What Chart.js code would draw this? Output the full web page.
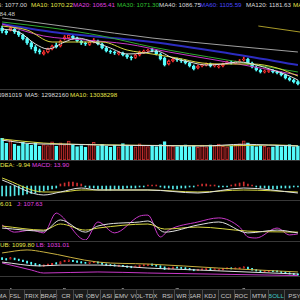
<!DOCTYPE html>
<html>
<head>
<meta charset="utf-8">
<script src="https://cdn.jsdelivr.net/npm/chart.js@4.4.0/dist/chart.umd.min.js"></script>
<style>
body{margin:0;background:#000;overflow:hidden}
#wrap{position:relative;width:300px;height:300px;background:#000;overflow:hidden;font-family:"Liberation Sans",Arial,sans-serif;font-size:6.2px}
canvas{position:absolute;left:0}
.t{position:absolute;white-space:nowrap;line-height:7px}
.sep{position:absolute;left:0;width:300px;height:1px;background:#383838}
#tabs{position:absolute;left:0;top:289px;width:300px;height:11px;background:#1a1a1a;border-top:1px solid #3c3c3c}
.tab{position:absolute;top:2px;line-height:7px;color:#c8c8c8;transform:translateX(-50%);white-space:nowrap}
.div{position:absolute;top:0;width:1px;height:11px;background:#4a4a4a}
</style>
</head>
<body>
<div id="wrap">
  <span class="t" style="right:273px;top:1px;color:#dcdcdc">MA5: 1077.00</span>
  <span class="t" style="left:31px;top:1px;color:#e6e64a">MA10: 1070.22</span>
  <span class="t" style="left:73px;top:1px;color:#e040e0">MA20: 1065.41</span>
  <span class="t" style="left:117px;top:1px;color:#30c030">MA30: 1071.30</span>
  <span class="t" style="left:159px;top:1px;color:#dcdcdc">MA40: 1086.75</span>
  <span class="t" style="left:200px;top:1px;color:#4848ff">MA60: 1105.59</span>
  <span class="t" style="left:246px;top:1px;color:#dcdcdc">MA120: 1181.63</span>
  <span class="t" style="left:293px;top:1px;color:#e6e64a">MA250:</span>
  <span class="t" style="right:285px;top:10px;color:#cccccc">1184.48</span>

  <span class="t" style="right:278px;top:91px;color:#dcdcdc">15981019</span>
  <span class="t" style="left:25px;top:91px;color:#dcdcdc">MA5: 12982160</span>
  <span class="t" style="left:70px;top:91px;color:#e6e64a">MA10: 13038298</span>

  <span class="t" style="left:0px;top:161px;color:#e6e64a">DEA: -9.94</span>
  <span class="t" style="left:32px;top:161px;color:#e040e0">MACD: 13.90</span>

  <span class="t" style="right:288px;top:200px;color:#e6e64a">D: 96.01</span>
  <span class="t" style="left:17px;top:200px;color:#e040e0">J: 107.63</span>

  <span class="t" style="left:0px;top:241px;color:#e6e64a">UB: 1099.80</span>
  <span class="t" style="left:36px;top:241px;color:#e040e0">LB: 1031.01</span>

  <canvas id="price" width="300" height="81" style="top:8px"></canvas>
  <canvas id="vol" width="300" height="63" style="top:97px"></canvas>
  <canvas id="macd" width="300" height="33" style="top:167px"></canvas>
  <canvas id="kdj" width="300" height="33" style="top:207px"></canvas>
  <canvas id="boll" width="300" height="41" style="top:248px"></canvas>

  <div class="sep" style="top:89px"></div>
  <div class="sep" style="top:160px"></div>
  <div class="sep" style="top:200px"></div>
  <div class="sep" style="top:241px"></div>
  <div class="sep" style="top:276px"></div>

  <div id="tabs"></div>
</div>
<script>
// candles, oldest -> newest
const opens  = [1152,1146,1148,1150,1144,1138,1131,1122,1114,1107,1100,1104,1110,1118,1116,1130,1132,1136,1132,1126,1122,1119,1124,1126,1120,1112,1106,1104,1100,1102,1098,1094,1093,1098,1103,1106,1109,1106,1100,1092,1080,1086,1090,1088,1086,1082,1076,1072,1076,1078,1080,1076,1074,1076,1082,1084,1082,1084,1088,1090,1082,1074,1068,1064,1065,1067,1064,1062,1058,1052,1048,1045];
const closes = [1146,1142,1152,1144,1138,1130,1122,1114,1106,1104,1104,1110,1116,1114,1126,1134,1138,1132,1126,1122,1120,1124,1128,1120,1112,1106,1104,1102,1103,1098,1094,1092,1098,1104,1106,1108,1107,1100,1090,1078,1086,1090,1088,1086,1082,1076,1070,1076,1078,1080,1076,1078,1076,1080,1084,1082,1084,1086,1090,1082,1074,1068,1064,1066,1067,1064,1062,1058,1052,1048,1044,1040];
const highs  = [1156,1149,1156,1153,1146,1140,1133,1125,1117,1110,1107,1112,1118,1122,1128,1137,1140,1138,1134,1128,1124,1126,1131,1128,1122,1114,1108,1106,1105,1104,1100,1096,1100,1106,1108,1110,1112,1108,1102,1094,1088,1092,1092,1090,1088,1084,1078,1078,1080,1082,1082,1080,1078,1082,1086,1086,1086,1089,1094,1092,1084,1076,1070,1068,1069,1069,1066,1064,1060,1054,1050,1047];
const lows   = [1142,1139,1146,1141,1135,1128,1119,1110,1102,1100,1098,1102,1108,1112,1114,1128,1130,1129,1124,1119,1117,1117,1122,1118,1110,1104,1101,1099,1098,1096,1091,1088,1091,1096,1101,1104,1104,1098,1088,1076,1078,1084,1085,1083,1080,1074,1068,1070,1074,1076,1074,1074,1072,1074,1080,1080,1080,1082,1086,1080,1072,1066,1062,1062,1063,1062,1060,1056,1050,1046,1042,1038];
// volume, millions of shares
const volumes = [18.5,14.2,16.8,13.5,12.1,15.3,13.8,12.6,14.9,11.8,13.2,12.4,15.6,11.9,14.8,13.1,16.2,12.7,11.4,12.3,11.1,13.6,15.2,12.2,13.4,11.8,10.9,12.6,11.3,14.1,12.8,12.1,11.2,13.9,12.4,11.6,12.2,11.5,13.3,15.8,12.6,11.9,11.4,12.2,13.1,11.6,12.4,10.8,12.7,11.3,12.9,12.3,13.6,11.7,11.2,12.1,12.8,13.9,16.4,14.8,12.2,11.6,12.4,11.8,10.7,11.3,12.6,11.4,12.3,13.2,11.5,12.1];
const macdHist = [-20,-20,-20,-19,-18,-18,-16,-15,-14,-12,-10,-8,-6,-4, 4,6,8,8,6,4, -2,-4,-4,-6,-6,-8,-8,-6,-6,-6,-4,-4,-4,-2,-2, 2,2,2, -2,-4,-4,-6,-6,-4,-4,-2,-2, 2,4,4,2,2, -2,-2,-2,2,4, 6,8,4,2, -2,-4,-4,-6,-6,-6,-4,-4,-4,-2,-2];

// indicator lines as [bar index, value]
const ma5   = [[0,1150],[4,1144],[8,1120],[11,1110],[15,1124],[18,1132],[22,1124],[26,1112],[30,1100],[34,1102],[37,1106],[41,1092],[45,1084],[49,1078],[53,1080],[57,1084],[61,1078],[65,1068],[69,1056],[71,1048]];
const ma10  = [[0,1156],[6,1148],[12,1124],[18,1124],[24,1124],[30,1108],[36,1100],[42,1092],[48,1082],[54,1080],[60,1080],[66,1072],[71,1056]];
const ma20  = [[0,1160],[10,1136],[20,1128],[30,1120],[40,1104],[54,1084],[71,1058]];
const ma30  = [[0,1164],[12,1152],[24,1136],[36,1114],[54,1088],[71,1064]];
const ma60  = [[0,1160],[12,1144],[36,1124],[54,1102],[71,1078]];
const ma120 = [[0,1172],[18,1152],[36,1132],[54,1117],[71,1104]];
const ma250 = [[61.5,1156],[71.5,1144]];
const volMa5  = [[0,17],[8,13.8],[16,13.5],[24,12.8],[36,12.4],[48,12.0],[58,13.5],[64,12.8],[71,12.0]];
const volMa10 = [[0,18],[10,14.5],[25,13.0],[40,12.4],[55,12.2],[65,12.9],[71,12.2]];
const dif = [[0,12],[10,-18],[14,-12],[19,-4],[23,-8],[35,-8],[47,-14],[58,-4],[71,-14]];
const dea = [[0,16],[10,-12],[14,-12],[19,-8],[23,-8],[35,-8],[47,-12],[58,-8],[71,-12]];
const kLine = [[0,37],[10,25],[14,69],[20,21],[23,45],[33,61],[35,65],[39,21],[47,49],[52,61],[59,18],[66,29],[71,18]];
const dLine = [[0,45],[10,29],[14,53],[20,29],[23,37],[35,53],[39,33],[47,41],[59,25],[71,21]];
const jLine = [[0,49],[3,21],[7,29],[10,18],[13,96],[14,88],[20,-10],[23,61],[27,18],[33,84],[35,88],[38,2],[40,29],[47,61],[52,77],[57,41],[59,2],[61,-2],[66,37],[69,10],[71,14]];
const bollUb  = [[0,1187],[6,1207],[10,1193],[23,1126],[35,1113],[52,1086],[71,1060]];
const bollMid = [[0,1126],[9,1100],[14,1106],[23,1106],[35,1086],[47,1073],[71,1046]];
const bollLb  = [[0,1120],[7,1073],[10,1053],[23,1060],[35,1053],[71,1036]];

const monthTicks  = [2, 15, 29, 42, 58];
const monthLabels = ['4', '5', '6', '7', '8'];
const tabNames = ['MA','FSL','TRIX','BRAR','CR','VR','OBV','ASI','EMV','VOL-TDX','RSI','WR','SAR','KDJ','CCI','ROC','MTM','BOLL','PSY'];

const N = closes.length;
const RED = '#ff3232', TEAL = '#54fcfc';
const up = closes.map((c, i) => c >= opens[i]);

function candles(wick, body) {
  return [
    {data: lows.map((l, i) => ({x: i, y: [l, highs[i]]})), backgroundColor: up.map(u => u ? RED : TEAL),
     barThickness: wick, grouped: false, order: 3},
    {data: opens.map((o, i) => ({x: i, y: [o, closes[i]]})), backgroundColor: up.map(u => u ? '#000' : TEAL),
     borderColor: up.map(u => u ? RED : TEAL), borderWidth: 1, borderSkipped: false, minBarLength: 1,
     barThickness: body, grouped: false, order: 2}
  ];
}
function line(pts, color, w) {
  return {type: 'line', data: pts.map(p => ({x: p[0], y: p[1]})), borderColor: color, borderWidth: w || 1,
    pointRadius: 0, cubicInterpolationMode: 'monotone', spanGaps: true, order: 1};
}
function panel(id, datasets, min, max, xExtra) {
  return new Chart(document.getElementById(id), {
    type: 'bar',
    data: {datasets},
    options: {
      responsive: false, animation: false, devicePixelRatio: 1,
      layout: {padding: 0},
      plugins: {legend: {display: false}, tooltip: {enabled: false}},
      scales: {
        x: Object.assign({type: 'linear', min: -0.5, max: N - 0.5, offset: false, display: false}, xExtra || {}),
        y: {min, max, display: false}
      }
    }
  });
}

panel('price', [
  line(ma5, '#e0e0e0'), line(ma10, '#d8d840'), line(ma20, '#c838c8'), line(ma30, '#30a830'),
  line(ma60, '#2c2cc0', 2), line(ma120, '#a0a0a0'), line(ma250, '#a89a28'),
  ...candles(1, 3)
], 1030, 1192);

panel('vol', [
  line(volMa5, '#e0e0e0'), line(volMa10, '#d8d840'),
  {data: volumes.map((v, i) => ({x: i, y: v})), backgroundColor: up.map(u => u ? '#3a0808' : TEAL),
   borderColor: up.map(u => u ? '#c83030' : TEAL), borderWidth: 1, borderSkipped: false, barThickness: 3, order: 2}
], 0, 54);

panel('macd', [
  line(dif, '#e0e0e0'), line(dea, '#d8d840'),
  {data: macdHist.map((v, i) => ({x: i, y: v})), backgroundColor: macdHist.map(v => v > 0 ? '#d03030' : '#54e8e8'),
   barThickness: 1, order: 2}
], -28, 38);

panel('kdj', [
  line(kLine, '#e0e0e0'), line(dLine, '#d8d840'), line(jLine, '#c838c8')
], -10, 120);

panel('boll', [
  line(bollUb, '#c8b040'), line(bollMid, '#e0e0e0'), line(bollLb, '#c838c8'),
  ...candles(1, 1)
], 1033, 1220, {
  display: true, position: 'bottom',
  grid: {display: false}, border: {display: false},
  afterFit: s => { s.height = 13; },
  afterBuildTicks: s => { s.ticks = monthTicks.map(v => ({value: v})); },
  ticks: {color: '#c8c8c8', font: {size: 6.5, family: 'Liberation Sans'}, padding: 3, maxRotation: 0, autoSkip: false,
    callback: (v, i) => monthLabels[i]}
});

// bottom indicator tabs
const tabCenters = [2,15,31.5,49,66,79,92.5,107,121.5,144,167.5,181.5,194.5,210,226,241,259,276,294.5];
const tabs = document.getElementById('tabs');
tabNames.forEach((name, i) => {
  const s = document.createElement('span');
  s.className = 'tab';
  s.textContent = name;
  s.style.left = tabCenters[i] + 'px';
  if (name === 'BOLL') s.style.color = '#40c8c8';
  tabs.appendChild(s);
  if (i > 0) {
    const d = document.createElement('div');
    d.className = 'div';
    d.style.left = Math.round((tabCenters[i - 1] + tabCenters[i]) / 2 + (name.length - tabNames[i - 1].length) * 0.8) + 'px';
    tabs.appendChild(d);
  }
});
</script>
</body>
</html>
